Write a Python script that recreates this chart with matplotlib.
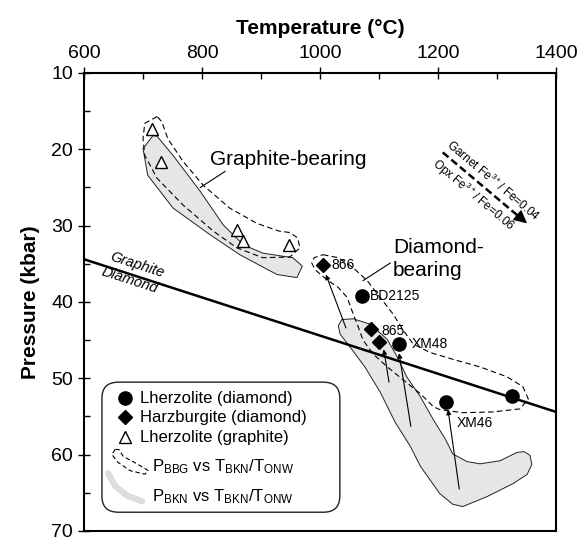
import numpy as np
import matplotlib
matplotlib.use("Agg")
import matplotlib.pyplot as plt
from matplotlib.patches import Polygon, FancyBboxPatch
from matplotlib.ticker import MultipleLocator

plt.rcParams['font.family'] = ['Liberation Sans', 'DejaVu Sans']
plt.rcParams['mathtext.fontset'] = 'custom'
plt.rcParams['mathtext.rm'] = 'Liberation Sans'
plt.rcParams['mathtext.it'] = 'Liberation Sans:italic'

# samples (T in C, P in kbar)
lherz_dia_T = [1071, 1134, 1213, 1325]
lherz_dia_P = [39.2, 45.5, 53.1, 52.3]
harz_dia_T = [1005, 1086, 1100]
harz_dia_P = [35.1, 43.5, 45.3]
lherz_gr_T = [715, 730, 859, 870, 947]
lherz_gr_P = [17.3, 21.6, 30.6, 32.0, 32.5]

# sample names: (label, T, P, dx, dy) offsets in points
sample_labels = [('866', 1005, 35.1, 6, 0), ('BD2125', 1071, 39.2, 6, 0),
                 ('865', 1086, 43.5, 8, -1.5), ('XM48', 1134, 45.5, 9, 0),
                 ('XM46', 1213, 53.1, 8, -15)]

# shift from P(BBG) to P(BKN)
arrow_tail_T = [1044, 1117, 1154, 1236]
arrow_tail_P = [43.4, 50.5, 56.3, 64.5]
arrow_head_T = [1010, 1108, 1134, 1217]
arrow_head_P = [36.4, 46.2, 46.7, 54.1]

# graphite/diamond transition (Kennedy & Kennedy)
gd_T = np.array([600, 1400])
gd_P = 19.4 + 0.025 * gd_T

# envelopes: P_BBG (dashed) and P_BKN (shaded)
gr_bbg_T = [724, 703, 700, 703, 724, 768, 819, 859, 903, 949, 966, 962, 949, 930,
            893, 847, 802, 768, 742, 732]
gr_bbg_P = [15.7, 16.6, 18.6, 20.8, 23.8, 27.3, 30.7, 32.9, 34.2, 34.1, 32.9, 31.6,
            30.9, 30.7, 29.7, 27.7, 24.7, 21.6, 18.6, 16.4]
gr_bkn_T = [717, 700, 708, 751, 814, 864, 927, 961, 970, 954, 903, 870, 836, 797, 751, 724]
gr_bkn_P = [18.2, 19.9, 23.4, 27.7, 31.2, 33.8, 36.4, 36.8, 35.3, 34.2, 33.6, 32.5,
            29.9, 25.5, 20.8, 18.3]
dia_bbg_T = [1005, 1031, 1056, 1080, 1102, 1124, 1141, 1158, 1186, 1225, 1271, 1317,
             1344, 1353, 1339, 1293, 1242, 1203, 1192, 1170, 1141, 1114, 1090, 1073,
             1063, 1054, 1046, 1031, 1012, 992, 986, 990]
dia_bbg_P = [33.8, 34.2, 35.5, 37.2, 39.4, 41.6, 43.7, 45.5, 46.6, 47.5, 48.5, 49.8,
             51.1, 52.7, 54.0, 54.4, 54.5, 54.1, 53.7, 52.0, 50.2, 48.5, 46.8, 45.0,
             42.9, 41.1, 39.4, 38.1, 37.1, 35.8, 34.9, 34.2]
dia_bkn_T = [1031, 1037, 1056, 1085, 1114, 1131, 1147, 1170, 1192, 1212, 1225, 1249,
             1271, 1305, 1334, 1346, 1356, 1359, 1351, 1327, 1283, 1242, 1225, 1203,
             1170, 1153, 1127, 1102, 1076, 1051, 1034]
dia_bkn_P = [43.1, 42.3, 42.2, 42.9, 44.9, 47.2, 49.8, 52.4, 55.4, 57.9, 59.9, 60.9,
             61.2, 60.8, 59.7, 59.6, 60.1, 61.3, 62.6, 63.8, 65.5, 66.8, 66.5, 65.1,
             61.5, 58.9, 55.7, 51.8, 48.5, 45.9, 44.2]

# Fe3+ correction vector
fe_T = [1208, 1351]
fe_P = [20.4, 29.7]

shade = '#e5e6e7'

fig = plt.figure(figsize=(5.79, 5.41), dpi=100)
ax = fig.add_axes([84 / 579, 10 / 541, 472 / 579, 458 / 541])

for T, P in [(gr_bkn_T, gr_bkn_P), (dia_bkn_T, dia_bkn_P)]:
    ax.add_patch(Polygon(np.column_stack([T, P]), closed=True, fc=shade,
                         ec='#222222', lw=0.7, joinstyle='round', zorder=1))

ax.plot(gd_T, gd_P, color='black', lw=1.8, zorder=2)

for T, P in [(gr_bbg_T, gr_bbg_P), (dia_bbg_T, dia_bbg_P)]:
    ax.add_patch(Polygon(np.column_stack([T, P]), closed=True, fill=False,
                         ec='black', lw=0.8, ls=(0, (5, 3)), zorder=3))

for tT, tP, hT, hP in zip(arrow_tail_T, arrow_tail_P, arrow_head_T, arrow_head_P):
    ax.annotate('', xy=(hT, hP), xytext=(tT, tP),
                arrowprops=dict(arrowstyle='-|>', lw=0.8, color='black',
                                mutation_scale=7, shrinkA=0, shrinkB=0), zorder=4)

ax.plot(lherz_dia_T, lherz_dia_P, 'o', ms=9.5, color='black', zorder=5)
ax.plot(harz_dia_T, harz_dia_P, 'D', ms=7, color='black', zorder=5)
ax.plot(lherz_gr_T, lherz_gr_P, '^', ms=9, mfc='white', mec='black', mew=1, zorder=5)

for name, T, P, dx, dy in sample_labels:
    ax.annotate(name, (T, P), xytext=(dx, dy), textcoords='offset points',
                fontsize=10, va='center', ha='left', zorder=6)

# field labels with leaders
ax.text(814, 22.1, 'Graphite-bearing', fontsize=15, va='baseline')
ax.plot([797, 839], [25.0, 22.9], color='black', lw=0.8)
ax.text(1124, 33.6, 'Diamond-', fontsize=15, va='baseline')
ax.text(1124, 36.6, 'bearing', fontsize=15, va='baseline')
ax.plot([1073, 1119], [37.2, 34.9], color='black', lw=0.8)

ax.text(690, 35.1, 'Graphite', fontsize=10.5, style='italic', rotation=-18,
        ha='center', va='center', rotation_mode='anchor')
ax.text(678, 37.2, 'Diamond', fontsize=10.5, style='italic', rotation=-18,
        ha='center', va='center', rotation_mode='anchor')

# Fe3+ arrow
ax.plot([fe_T[0], fe_T[1] - 14], [fe_P[0], fe_P[1] - 0.9], color='black', lw=1.8,
        ls=(0, (3, 1.5)), zorder=4)
ax.annotate('', xy=(fe_T[1], fe_P[1]), xytext=(fe_T[1] - 20, fe_P[1] - 1.3),
            arrowprops=dict(arrowstyle='-|>', lw=1, color='black',
                            mutation_scale=20, shrinkA=0, shrinkB=0), zorder=4)
ax.text(1293, 24.1, 'Garnet Fe$^{3+}$/ Fe=0.04', fontsize=8.5, rotation=-40,
        ha='center', va='center', rotation_mode='anchor')
ax.text(1259, 26.0, 'Opx Fe$^{3+}$/ Fe=0.06', fontsize=8.5, rotation=-40,
        ha='center', va='center', rotation_mode='anchor')

# legend drawn by hand
ax.add_patch(FancyBboxPatch((0.038, 0.041), 0.504, 0.284,
                            boxstyle='round,pad=0,rounding_size=0.035',
                            transform=ax.transAxes, fc='white', ec='#222222',
                            lw=1, zorder=7))
tr = ax.transAxes
ax.plot(0.087, 0.291, 'o', ms=9.5, color='black', transform=tr, zorder=8)
ax.plot(0.087, 0.249, 'D', ms=7, color='black', transform=tr, zorder=8)
ax.plot(0.087, 0.206, '^', ms=9, mfc='white', mec='black', mew=1, transform=tr, zorder=8)
key_dash_x = [0.066, 0.059, 0.072, 0.097, 0.129, 0.136, 0.110, 0.083, 0.074]
key_dash_y = [0.178, 0.167, 0.150, 0.132, 0.124, 0.132, 0.148, 0.163, 0.178]
ax.add_patch(Polygon(np.column_stack([key_dash_x, key_dash_y]), closed=True,
                     fill=False, ec='black', lw=0.8, ls=(0, (4, 2.5)),
                     transform=tr, zorder=8))
key_shade_x = [0.051, 0.066, 0.093, 0.123]
key_shade_y = [0.126, 0.098, 0.076, 0.065]
ax.plot(key_shade_x, key_shade_y, color='#dcdddf', lw=4.5, solid_capstyle='round',
        transform=tr, zorder=8)
legend_text = ['Lherzolite (diamond)', 'Harzburgite (diamond)', 'Lherzolite (graphite)',
               r'P$_{\mathrm{BBG}}$ vs T$_{\mathrm{BKN}}$/T$_{\mathrm{ONW}}$',
               r'P$_{\mathrm{BKN}}$ vs T$_{\mathrm{BKN}}$/T$_{\mathrm{ONW}}$']
legend_y = [0.289, 0.247, 0.204, 0.141, 0.076]
for s, y in zip(legend_text, legend_y):
    ax.text(0.119 if y > 0.18 else 0.145, y, s, fontsize=12, va='center',
            transform=tr, zorder=8)

ax.set_xlim(600, 1400)
ax.set_ylim(70, 10)
ax.xaxis.tick_top()
ax.xaxis.set_label_position('top')
ax.xaxis.set_major_locator(MultipleLocator(200))
ax.xaxis.set_minor_locator(MultipleLocator(100))
ax.yaxis.set_major_locator(MultipleLocator(10))
ax.yaxis.set_minor_locator(MultipleLocator(5))
ax.tick_params(which='major', direction='inout', length=8, width=1, labelsize=14, pad=4)
ax.tick_params(which='minor', direction='in', length=4, width=1)
ax.tick_params(axis='x', which='both', top=True, bottom=False)
ax.tick_params(axis='y', which='both', left=True, right=False)
for sp in ax.spines.values():
    sp.set_linewidth(1.5)

ax.set_xlabel('Temperature (°C)', fontsize=15, fontweight='bold', labelpad=8)
ax.set_ylabel('Pressure (kbar)', fontsize=15, fontweight='bold', labelpad=8)

fig.savefig('out.png', dpi=100)
